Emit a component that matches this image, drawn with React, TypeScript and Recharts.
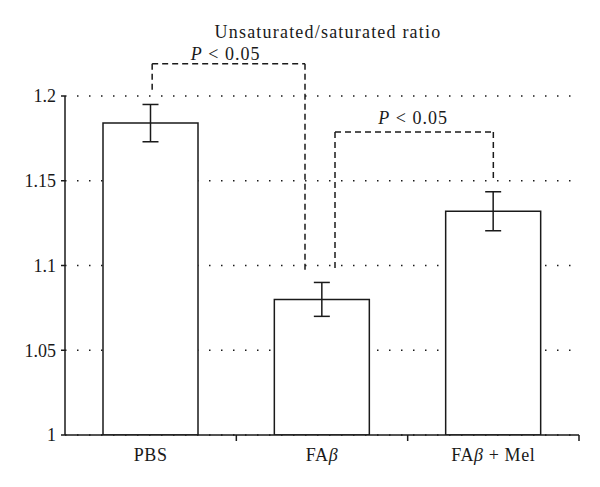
import {
  BarChart,
  Bar,
  XAxis,
  YAxis,
  CartesianGrid,
  ErrorBar,
  ReferenceLine,
} from "recharts";

const CATEGORIES = ["PBS", "FAβ", "FAβ + Mel"];
const RATIO = [1.184, 1.08, 1.132];
const RATIO_ERR = [0.011, 0.01, 0.0115];
const Y_TICKS = [1, 1.05, 1.1, 1.15, 1.2];

// significance brackets: from/to category, top of bracket, bottom of each leg
const BRACKET_FROM = ["PBS", "FAβ"];
const BRACKET_TO = ["FAβ", "FAβ + Mel"];
const BRACKET_TOP = [1.219, 1.1788];
const BRACKET_FROM_BOTTOM = [1.2025, 1.0973];
const BRACKET_TO_BOTTOM = [1.0962, 1.1504];
const BRACKET_LABEL = ["< 0.05", "< 0.05"];

// pixel nudges of the bracket legs away from bar centres
const LEG_DX_FROM = [1.5, 13];
const LEG_DX_TO = [-17, 0];
const LABEL_DX = [-3, -1];
const LABEL_DY = [-4, -8];

const data = CATEGORIES.map((name, i) => ({
  name,
  ratio: RATIO[i],
  err: RATIO_ERR[i],
}));

const FONT = "'Liberation Serif', 'DejaVu Serif', serif";
const FONT_SIZE = 18;
const INK = "#1a1a1a";

const dashedShape = (dx1: number, dx2: number) => (p: any) => (
  <line
    x1={p.x1 + dx1}
    y1={p.y1}
    x2={p.x2 + dx2}
    y2={p.y2}
    stroke={INK}
    strokeWidth={1.5}
    strokeDasharray="6 4"
  />
);

// category label plus a tick mark on the right edge of each band
const CategoryTick = (props: any) => {
  const { x, y, payload } = props;
  const parts = String(payload.value).split("β");
  const half = payload.offset || 0;
  return (
    <g>
      {half > 0 && (
        <line
          x1={x + half}
          x2={x + half}
          y1={y - 2}
          y2={y + 4}
          stroke={INK}
          strokeWidth={1.5}
        />
      )}
      <text
        x={x}
        y={y + 24}
        textAnchor="middle"
        fontFamily={FONT}
        fontSize={FONT_SIZE}
        letterSpacing={0.6}
        fill={INK}
      >
        {parts.map((s, i) => (
          <tspan key={i}>
            {i > 0 && <tspan fontStyle="italic">β</tspan>}
            {s}
          </tspan>
        ))}
      </text>
    </g>
  );
};

const pLabel = (dx: number, dy: number, text: string) => (props: any) => {
  const vb = props.viewBox;
  return (
    <text
      x={vb.x + vb.width / 2 + dx}
      y={vb.y + dy}
      textAnchor="middle"
      fontFamily={FONT}
      fontSize={FONT_SIZE}
      letterSpacing={1}
      fill={INK}
    >
      <tspan fontStyle="italic">P</tspan> {text}
    </text>
  );
};

export default function App() {
  return (
    <div
      style={{
        position: "absolute",
        left: 0,
        top: 0,
        width: 600,
        height: 487,
        background: "#fff",
      }}
    >
      <div
        style={{
          position: "absolute",
          left: 0,
          width: 656,
          top: 22,
          textAlign: "center",
          fontFamily: FONT,
          fontSize: FONT_SIZE,
          letterSpacing: 1.2,
          color: INK,
        }}
      >
        Unsaturated/saturated ratio
      </div>
      <BarChart
        width={600}
        height={487}
        data={data}
        margin={{ top: 96, right: 21, bottom: 22, left: 0 }}
      >
        <CartesianGrid
          vertical={false}
          stroke={INK}
          strokeWidth={1.3}
          strokeDasharray="1.5 10.5"
        />
        <XAxis
          dataKey="name"
          tick={<CategoryTick />}
          tickLine={false}
          tickSize={0}
          axisLine={{ stroke: INK, strokeWidth: 1.5 }}
          height={30}
        />
        <YAxis
          domain={[1, 1.2]}
          ticks={Y_TICKS}
          allowDataOverflow
          width={65}
          tickSize={4}
          tickMargin={5}
          axisLine={{ stroke: INK, strokeWidth: 1.5 }}
          tickLine={{ stroke: INK, strokeWidth: 1.5 }}
          tick={{ fontFamily: FONT, fontSize: FONT_SIZE, fill: INK }}
        />
        <Bar
          dataKey="ratio"
          fill="#fff"
          stroke={INK}
          strokeWidth={1.5}
          barSize={95}
          isAnimationActive={false}
        >
          <ErrorBar
            dataKey="err"
            width={8}
            stroke={INK}
            strokeWidth={1.5}
            isAnimationActive={false}
          />
        </Bar>
        {BRACKET_FROM.map((from, i) => [
          <ReferenceLine
            key={`top-${i}`}
            ifOverflow="visible"
            segment={[
              { x: from, y: BRACKET_TOP[i] },
              { x: BRACKET_TO[i], y: BRACKET_TOP[i] },
            ]}
            shape={dashedShape(LEG_DX_FROM[i], LEG_DX_TO[i])}
            label={pLabel(
              (LEG_DX_FROM[i] + LEG_DX_TO[i]) / 2 + LABEL_DX[i],
              LABEL_DY[i],
              BRACKET_LABEL[i]
            )}
          />,
          <ReferenceLine
            key={`l-${i}`}
            ifOverflow="visible"
            segment={[
              { x: from, y: BRACKET_TOP[i] },
              { x: from, y: BRACKET_FROM_BOTTOM[i] },
            ]}
            shape={dashedShape(LEG_DX_FROM[i], LEG_DX_FROM[i])}
          />,
          <ReferenceLine
            key={`r-${i}`}
            ifOverflow="visible"
            segment={[
              { x: BRACKET_TO[i], y: BRACKET_TOP[i] },
              { x: BRACKET_TO[i], y: BRACKET_TO_BOTTOM[i] },
            ]}
            shape={dashedShape(LEG_DX_TO[i], LEG_DX_TO[i])}
          />,
        ])}
      </BarChart>
    </div>
  );
}
